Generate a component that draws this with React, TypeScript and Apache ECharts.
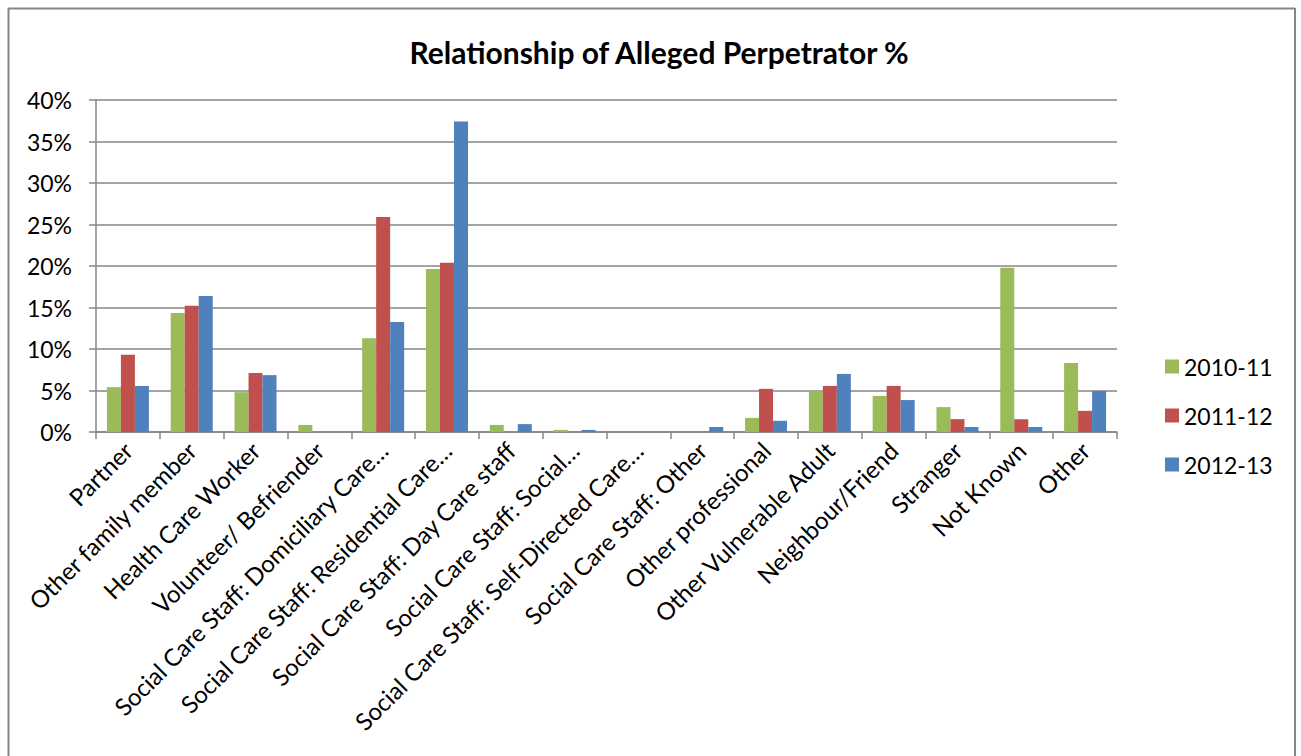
import React, { useEffect, useRef } from "react";
import * as echarts from "echarts";

const categories = [
  "Partner",
  "Other family member",
  "Health Care Worker",
  "Volunteer/ Befriender",
  "Social Care Staff: Domiciliary Care…",
  "Social Care Staff: Residential Care…",
  "Social Care Staff: Day Care staff",
  "Social Care Staff: Social…",
  "Social Care Staff: Self-Directed Care…",
  "Social Care Staff: Other",
  "Other professional",
  "Other Vulnerable Adult",
  "Neighbour/Friend",
  "Stranger",
  "Not Known",
  "Other",
];

const s2010 = [5.4, 14.35, 4.8, 0.85, 11.3, 19.65, 0.85, 0.25, 0, 0, 1.7, 4.95, 4.35, 3.0, 19.8, 8.3];
const s2011 = [9.3, 15.2, 7.1, 0, 25.9, 20.4, 0, 0, 0, 0, 5.2, 5.55, 5.55, 1.55, 1.55, 2.55];
const s2012 = [5.55, 16.4, 6.85, 0, 13.25, 37.4, 0.95, 0.25, 0, 0.6, 1.35, 7.0, 3.85, 0.6, 0.6, 4.95];

const seriesNames = ["2010-11", "2011-12", "2012-13"];
const colors = ["#9BBB59", "#C0504D", "#4F81BD"];

const FONT = "Lato, 'Open Sans', sans-serif";

export default function App() {
  const ref = useRef<HTMLDivElement>(null);
  useEffect(() => {
    if (!ref.current) return;
    const chart = echarts.init(ref.current, undefined, { renderer: "svg" });
    const data = [s2010, s2011, s2012];
    chart.setOption({
      animation: false,
      backgroundColor: "#ffffff",
      title: {
        text: "Relationship of Alleged Perpetrator %",
        left: 654,
        textAlign: "center",
        top: 32,
        textStyle: { fontFamily: FONT, fontSize: 30, fontWeight: "bold", color: "#000" },
      },
      legend: {
        orient: "vertical",
        left: 1160,
        top: 350,
        itemWidth: 14,
        itemHeight: 14,
        itemGap: 26,
        icon: "rect",
        textStyle: { fontFamily: FONT, fontSize: 23, color: "#000" },
        data: seriesNames,
      },
      grid: { left: 96, right: 184, top: 100, bottom: 324, containLabel: false },
      xAxis: {
        type: "category",
        data: categories,
        boundaryGap: true,
        axisLine: { lineStyle: { color: "#868686", width: 1.5 } },
        axisTick: { show: true, length: 7, alignWithLabel: false, lineStyle: { color: "#868686", width: 1.5 } },
        axisLabel: {
          interval: 0,
          rotate: 45,
          margin: 14,
          fontFamily: FONT,
          fontSize: 24,
          color: "#000",
        },
      },
      yAxis: {
        type: "value",
        min: 0,
        max: 40,
        interval: 5,
        axisLine: { show: true, lineStyle: { color: "#868686", width: 1.5 } },
        axisTick: { show: true, length: 7, lineStyle: { color: "#868686", width: 1.5 } },
        axisLabel: {
          formatter: "{value}%",
          fontFamily: FONT,
          fontSize: 23,
          color: "#000",
          margin: 24,
        },
        splitLine: { show: true, lineStyle: { color: "#868686", width: 1.5 } },
      },
      series: seriesNames.map((name, i) => ({
        name,
        type: "bar",
        data: data[i],
        barWidth: 14,
        barGap: "0%",
        itemStyle: { color: colors[i] },
      })),
      graphic: [
        { type: "line", shape: { x1: 8, y1: 8.5, x2: 1295, y2: 8.5 }, style: { stroke: "#868686", lineWidth: 2 } },
        { type: "line", shape: { x1: 8.5, y1: 8, x2: 8.5, y2: 756 }, style: { stroke: "#868686", lineWidth: 2 } },
        { type: "line", shape: { x1: 1295, y1: 8, x2: 1295, y2: 756 }, style: { stroke: "#868686", lineWidth: 2 } },
      ],
    });
    return () => chart.dispose();
  }, []);
  return (
    <div
      ref={ref}
      style={{ position: "fixed", left: 0, top: 0, width: 1301, height: 756, background: "#fff" }}
    />
  );
}
